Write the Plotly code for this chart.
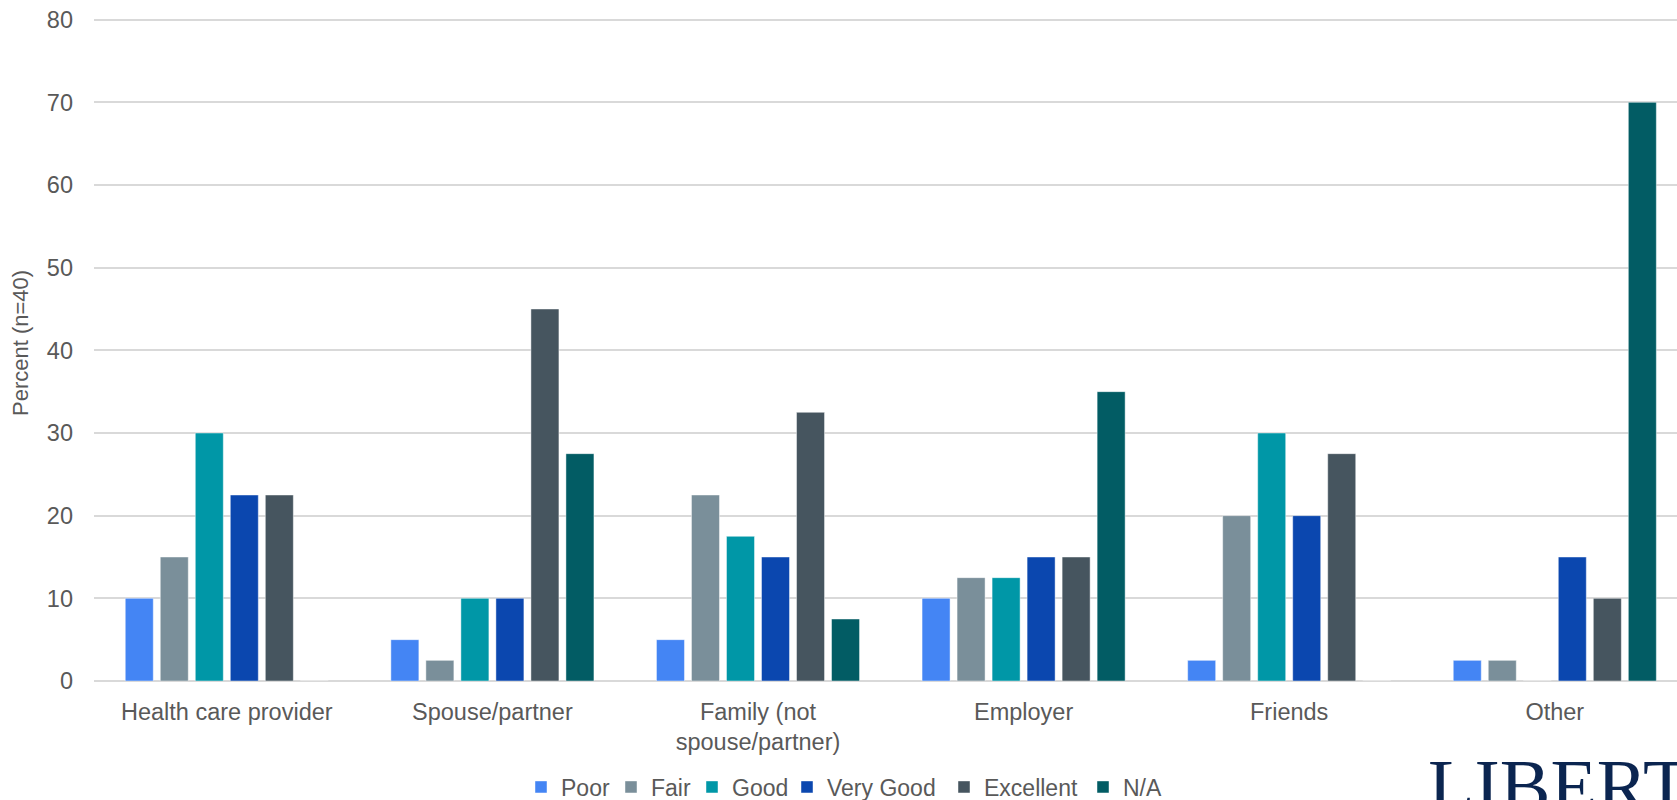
import plotly.graph_objects as go

categories = ["Health care provider", "Spouse/partner", "Family (not<br>spouse/partner)",
              "Employer", "Friends", "Other"]
series_names = ["Poor", "Fair", "Good", "Very Good", "Excellent", "N/A"]
poor = [10, 5, 5, 10, 2.5, 2.5]
fair = [15, 2.5, 22.5, 12.5, 20, 2.5]
good = [30, 10, 17.5, 12.5, 30, 0]
very_good = [22.5, 10, 15, 15, 20, 15]
excellent = [22.5, 45, 32.5, 15, 27.5, 10]
na = [0, 27.5, 7.5, 35, 0, 70]
y_ticks = [0, 10, 20, 30, 40, 50, 60, 70, 80]

series_values = [poor, fair, good, very_good, excellent, na]
colors = ["#4485F4", "#7A8F9A", "#0097A7", "#0B47AF", "#46555F", "#025C64"]
legend_square_px = [541, 631, 712, 807, 964, 1103]

W, H = 1677, 800
ML, MR, MT, MB = 94, 0, 18, 119
PW = W - ML - MR
PH = H - MT - MB
CAT_PX = 265.6
Y_TOP = 80.2


def px_x(px):
    return (px - ML) / PW


def px_y(py):
    return (H - MB - py) / PH


fig = go.Figure()
legend_ids = ["legend"] + ["legend%d" % i for i in range(2, 7)]
for name, vals, col, lid in zip(series_names, series_values, colors, legend_ids):
    fig.add_trace(go.Bar(
        name=name, x=list(range(len(categories))), y=vals, legend=lid,
        marker=dict(color=col, line=dict(color="rgba(255,255,255,0.45)", width=1)),
    ))

font_family = "Liberation Sans, Arial, sans-serif"
txt_col = "#595959"

fig.update_layout(
    width=W, height=H,
    margin=dict(l=ML, r=MR, t=MT, b=MB, autoexpand=False),
    plot_bgcolor="white", paper_bgcolor="white",
    barmode="group", bargap=0.209, bargroupgap=0.2,
    font=dict(family=font_family, color=txt_col, size=23),
    showlegend=True,
)
for lid, sq in zip(legend_ids, legend_square_px):
    fig.update_layout({lid: dict(
        orientation="h", x=px_x(sq - 20), xanchor="left",
        y=px_y(787), yanchor="middle",
        font=dict(size=23, color=txt_col), bgcolor="rgba(0,0,0,0)",
    )})

fig.update_xaxes(
    range=[-0.5, -0.5 + PW / CAT_PX], automargin=False,
    tickmode="array", tickvals=list(range(len(categories))), ticktext=categories,
    showgrid=False, zeroline=False, showline=False, ticks="",
    tickfont=dict(size=23.5, color=txt_col), ticklabelstandoff=14,
)
fig.update_yaxes(
    range=[0, Y_TOP], automargin=False, tickmode="array", tickvals=y_ticks,
    showgrid=True, gridcolor="#D9D9D9", gridwidth=1.5,
    zeroline=True, zerolinecolor="#D9D9D9", zerolinewidth=1.5,
    showline=False, ticks="",
    tickfont=dict(size=23.5, color=txt_col), ticklabelstandoff=20,
)

fig.add_annotation(
    text="Percent (n=40)", xref="paper", yref="paper",
    x=px_x(20), y=px_y(343), xanchor="center", yanchor="middle",
    textangle=-90, showarrow=False, font=dict(size=22, color=txt_col),
)

fig.add_annotation(
    text="LIBERTY", xref="paper", yref="paper",
    x=px_x(1426), xanchor="left",
    y=px_y(742), yanchor="top",
    showarrow=False, font=dict(family="Liberation Serif, Times New Roman, serif", size=76, color="#0B2550"),
)

fig.write_html("out.html", config={"displayModeBar": False},
               post_script="document.body.style.margin='0';document.body.style.overflow='hidden';")
